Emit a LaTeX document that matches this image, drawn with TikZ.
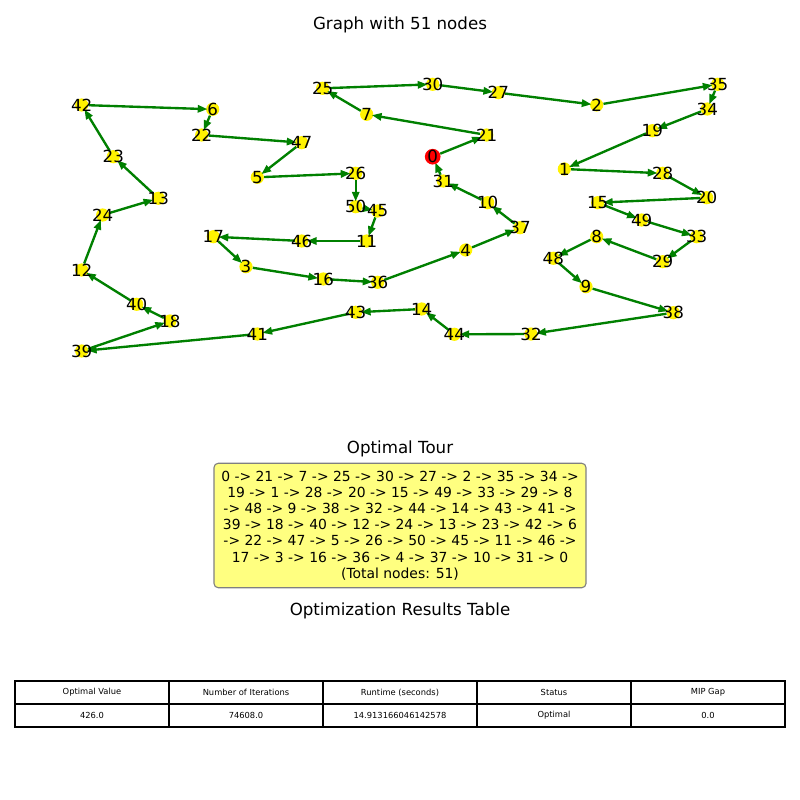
\documentclass[tikz,border=0pt]{standalone}
\usepackage{fontspec}
\setmainfont{DejaVu Sans}
\usetikzlibrary{arrows.meta}
\definecolor{edgegreen}{HTML}{008000}
\definecolor{boxfill}{HTML}{FFFF80}
\definecolor{boxedge}{HTML}{808080}
\begin{document}
\begin{tikzpicture}[x=0.72pt,y=-0.72pt,
  vert/.style={circle,fill=yellow,minimum size=9.5pt,inner sep=0pt},
  startvert/.style={circle,fill=red,minimum size=11.3pt,inner sep=0pt},
  lbl/.style={font=\fontsize{12}{14}\selectfont,inner sep=0pt},
  tour/.style={draw=edgegreen,line width=1.7pt,shorten >=-1.2pt,
    -{Triangle[length=7pt,width=5.2pt]}},
  titletext/.style={font=\fontsize{12}{14}\selectfont,anchor=base,inner sep=0pt},
  cell/.style={font=\fontsize{6}{7}\selectfont,inner sep=0pt},
  grid/.style={line width=0.8pt,black}]
\useasboundingbox (0,0) rectangle (800,800);

% titles
\node[titletext] (gtitle) at (400,29) {Graph with 51 nodes};
\node[titletext] (ttitle) at (400,453) {Optimal Tour};
\node[titletext] (rtitle) at (400,615) {Optimization Results Table};

% vertices
\node[startvert,fill=none] (n0) at (432.7,156.7) {};
\foreach \i/\x/\y in {
1/564.3/169, 2/596.7/105, 3/246/266.7, 4/465.7/250, 5/257.3/177.3,
6/212.7/109.3, 7/366.7/114.3, 8/596.7/236.7, 9/586/286.7, 10/487.7/202.7,
11/366.7/241, 12/81.7/270, 13/158.3/198.3, 14/421.7/309, 15/597.7/202.7,
16/323.3/279, 17/213.3/236.7, 18/170/321, 19/652.3/130.7, 20/706.7/197.7,
21/486.7/135, 22/201.7/135, 23/113.3/156.7, 24/102.7/215, 25/322.7/88.3,
26/355.7/173.3, 27/498.3/92.7, 28/662.7/173.3, 29/662.7/261.7, 30/432.7/84.3,
31/443.3/181, 32/531/334, 33/696.7/236.7, 34/707.3/109, 35/717.7/84.3,
36/377.7/282.3, 37/520/227.7, 38/673.3/312.7, 39/81.7/351, 40/136.7/304.3,
41/257.3/334, 42/81.7/105, 43/355.7/312.3, 44/454.3/334.3, 45/377.7/211,
46/301.7/241, 47/301.7/142.7, 48/553.3/258.3, 49/641.7/220, 50/355.7/206.7}
  {\node[vert] (n\i) at (\x,\y) {};}

% tour edges
\foreach \a/\b in {0/21,21/7,7/25,25/30,30/27,27/2,2/35,35/34,34/19,19/1,
  1/28,28/20,20/15,15/49,49/33,33/29,29/8,8/48,48/9,9/38,38/32,32/44,44/14,
  14/43,43/41,41/39,39/18,18/40,40/12,12/24,24/13,13/23,23/42,42/6,6/22,
  22/47,47/5,5/26,26/50,50/45,45/11,11/46,46/17,17/3,3/16,16/36,36/4,4/37,
  37/10,10/31,31/0}
  {\draw[tour] (n\a) -- (n\b);}

% start vertex drawn over its edges
\node[startvert] (n0fill) at (n0) {};

% labels
\foreach \i in {0,...,50} {\node[lbl] (l\i) at (n\i) {\i};}

% tour text box
\node[draw=boxedge,fill=boxfill,rounded corners=3pt,line width=0.8pt,
  minimum width=267.8pt,minimum height=89.6pt,inner sep=0pt,align=center,
  font=\fontsize{10}{11.66}\selectfont] (tourbox) at (400,525.5)
  {0 -> 21 -> 7 -> 25 -> 30 -> 27 -> 2 -> 35 -> 34 ->\\
   19 -> 1 -> 28 -> 20 -> 15 -> 49 -> 33 -> 29 -> 8\\
   -> 48 -> 9 -> 38 -> 32 -> 44 -> 14 -> 43 -> 41 ->\\
   39 -> 18 -> 40 -> 12 -> 24 -> 13 -> 23 -> 42 -> 6\\
   -> 22 -> 47 -> 5 -> 26 -> 50 -> 45 -> 11 -> 46 ->\\
   17 -> 3 -> 16 -> 36 -> 4 -> 37 -> 10 -> 31 -> 0\\
   (Total nodes: 51)};

% results table
\draw[grid] (15,681) rectangle (785,727);
\draw[grid] (15,704) -- (785,704);
\foreach \cx in {169,323,477,631} {\draw[grid] (\cx,681) -- (\cx,727);}
\node[cell] (h1) at (92,692.5) {Optimal Value};
\node[cell] (h2) at (246,692.5) {Number of Iterations};
\node[cell] (h3) at (400,692.5) {Runtime (seconds)};
\node[cell] (h4) at (554,692.5) {Status};
\node[cell] (h5) at (708,692.5) {MIP Gap};
\node[cell] (v1) at (92,715.5) {426.0};
\node[cell] (v2) at (246,715.5) {74608.0};
\node[cell] (v3) at (400,715.5) {14.913166046142578};
\node[cell] (v4) at (554,715.5) {Optimal};
\node[cell] (v5) at (708,715.5) {0.0};
\end{tikzpicture}
\end{document}
